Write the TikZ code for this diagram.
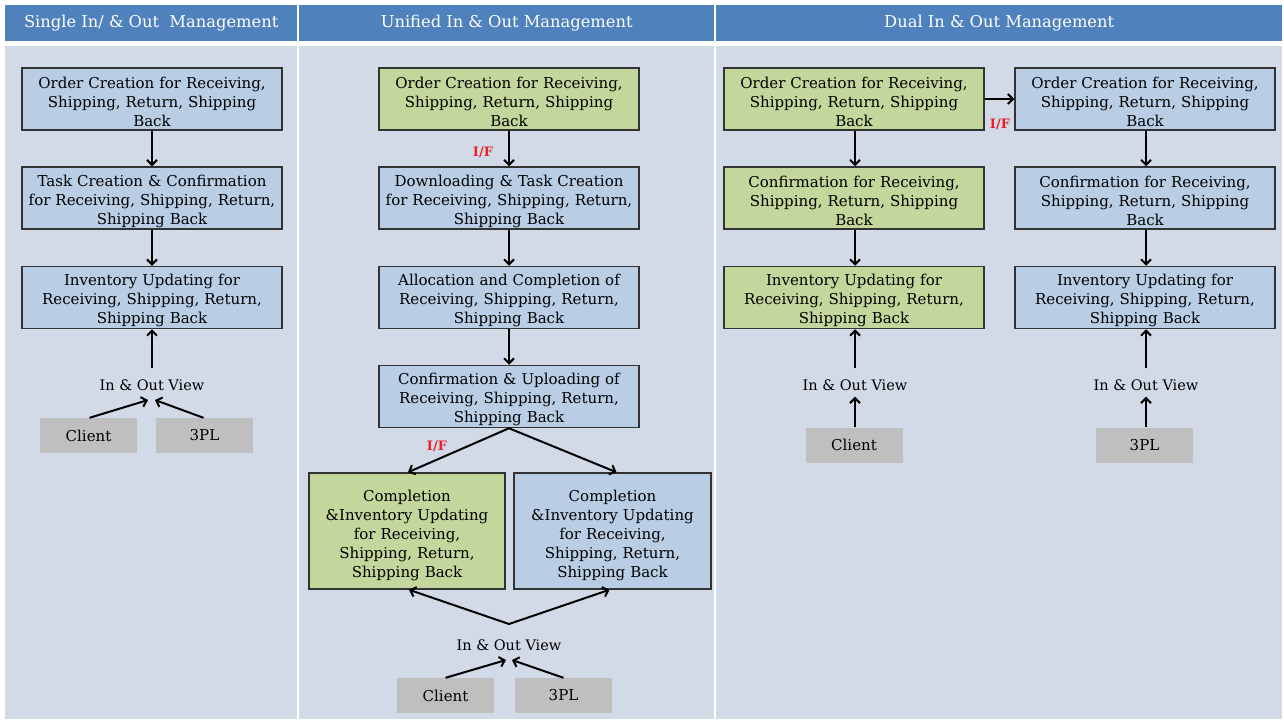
\documentclass[tikz,border=0pt]{standalone}
\usepackage{fontspec}
\setmainfont{DejaVu Serif}
\usetikzlibrary{arrows.meta}
\definecolor{hdrblue}{HTML}{4F81BD}
\definecolor{panel}{HTML}{D3DAE7}
\definecolor{boxblue}{HTML}{B9CDE5}
\definecolor{boxgreen}{HTML}{C3D69B}
\definecolor{boxgray}{HTML}{BFBFBF}
\definecolor{ifred}{HTML}{E8202A}
\newcommand{\boxfont}{\fontsize{15}{19}\selectfont}
\tikzset{
  hdr/.style={fill=hdrblue, draw=none, text=white, font=\fontsize{16.3}{19}\selectfont},
  proc/.style={draw=black!80, line width=1.5pt, align=center, inner sep=1pt,
    font=\boxfont, minimum height=62pt, text height=18pt},
  tallproc/.style={minimum height=116pt, text height=20pt},
  bluebox/.style={proc, fill=boxblue},
  greenbox/.style={proc, fill=boxgreen},
  actor/.style={fill=boxgray, draw=none, minimum width=97pt, minimum height=35pt,
    font=\fontsize{15}{19}\selectfont},
  viewlbl/.style={font=\fontsize{14.5}{19}\selectfont, inner sep=1pt},
  iflbl/.style={text=ifred, font=\bfseries\fontsize{13}{14}\selectfont, inner sep=0pt},
  arr/.style={-{Straight Barb[length=5pt,width=10pt]}, line width=2pt},
  darr/.style={{Straight Barb[length=5pt,width=10pt]}-{Straight Barb[length=5pt,width=10pt]}, line width=2pt}
}
\begin{document}
\begin{tikzpicture}[x=1pt,y=-1pt]
\useasboundingbox (0,0) rectangle (1284,720);
\fill[white] (0,0) rectangle (1284,720);
% column panels and headers
\fill[panel] (5,46) rectangle (297,719);
\fill[panel] (299,46) rectangle (714,719);
\fill[panel] (716,46) rectangle (1282,719);
\node[hdr, minimum width=292pt, minimum height=36pt, anchor=north west] (h1) at (5,5) {Single In/ \& Out\ \ Management};
\node[hdr, minimum width=415pt, minimum height=36pt, anchor=north west] (h2) at (299,5) {Unified In \& Out Management};
\node[hdr, minimum width=566pt, minimum height=36pt, anchor=north west] (h3) at (716,5) {Dual In \& Out Management};

% ---- single management ----
\node[bluebox, text width=258pt] (a1) at (152,99) {Order Creation for Receiving,\\Shipping, Return, Shipping\\Back};
\node[bluebox, text width=258pt] (a2) at (152,198) {Task Creation \& Confirmation\\for Receiving, Shipping, Return,\\Shipping Back};
\node[bluebox, text width=258pt] (a3) at (152,297.5) {Inventory Updating for\\Receiving, Shipping, Return,\\Shipping Back};
\node[viewlbl] (av) at (152,385) {In \& Out View};
\node[actor] (ac) at (88.5,435.5) {Client};
\node[actor] (ap) at (204.5,435.5) {3PL};
\coordinate (avl) at (148,400);
\coordinate (avr) at (155,400);
\draw[arr] (a1) -- (a2);
\draw[arr] (a2) -- (a3);
\draw[arr] ([yshift=10pt]av.north) -- (a3.south);
\draw[arr] ([xshift=1pt]ac.north) -- (avl);
\draw[arr] ([xshift=-1pt]ap.north) -- (avr);

% ---- unified management ----
\node[greenbox, text width=258pt] (b1) at (509,99) {Order Creation for Receiving,\\Shipping, Return, Shipping\\Back};
\node[bluebox, text width=258pt] (b2) at (509,198) {Downloading \& Task Creation\\for Receiving, Shipping, Return,\\Shipping Back};
\node[bluebox, text width=258pt] (b3) at (509,297.5) {Allocation and Completion of\\Receiving, Shipping, Return,\\Shipping Back};
\node[bluebox, text width=258pt] (b4) at (509,396.5) {Confirmation \& Uploading of\\Receiving, Shipping, Return,\\Shipping Back};
\node[greenbox, tallproc, text width=194pt] (b5) at (407,531) {Completion\\\&Inventory Updating\\for Receiving,\\Shipping, Return,\\Shipping Back};
\node[bluebox, tallproc, text width=195pt] (b6) at (612.5,531) {Completion\\\&Inventory Updating\\for Receiving,\\Shipping, Return,\\Shipping Back};
\node[viewlbl] (bv) at (509,645) {In \& Out View};
\node[actor] (bc) at (445.5,695.5) {Client};
\node[actor] (bp) at (563.5,695.5) {3PL};
\coordinate (bj) at (509,624);
\coordinate (bvl) at (506,660);
\coordinate (bvr) at (512,660);
\draw[arr] (b1) -- (b2);
\node[iflbl] (if1) at (483,152) {I/F};
\draw[arr] (b2) -- (b3);
\draw[arr] (b3) -- (b4);
\draw[arr] (b4.south) -- ([xshift=1pt]b5.north);
\draw[arr] (b4.south) -- ([xshift=4pt]b6.north);
\node[iflbl] (if2) at (437,446) {I/F};
\draw[darr] ([xshift=2pt]b5.south) -- (bj) -- ([xshift=-3pt]b6.south);
\draw[arr] (bc.north) -- (bvl);
\draw[arr] (bp.north) -- (bvr);

% ---- dual management ----
\node[greenbox, text width=258pt] (c1) at (854,99) {Order Creation for Receiving,\\Shipping, Return, Shipping\\Back};
\node[greenbox, text width=258pt] (c2) at (854,198) {Confirmation for Receiving,\\Shipping, Return, Shipping\\Back};
\node[greenbox, text width=258pt] (c3) at (854,297.5) {Inventory Updating for\\Receiving, Shipping, Return,\\Shipping Back};
\node[bluebox, text width=258pt] (d1) at (1145,99) {Order Creation for Receiving,\\Shipping, Return, Shipping\\Back};
\node[bluebox, text width=258pt] (d2) at (1145,198) {Confirmation for Receiving,\\Shipping, Return, Shipping\\Back};
\node[bluebox, text width=258pt] (d3) at (1145,297.5) {Inventory Updating for\\Receiving, Shipping, Return,\\Shipping Back};
\node[viewlbl] (cv) at (855,385) {In \& Out View};
\node[viewlbl] (dv) at (1146,385) {In \& Out View};
\node[actor] (cc) at (854,445) {Client};
\node[actor] (dp) at (1144.5,445) {3PL};
\draw[arr] (c1.east) -- (d1.west);
\node[iflbl] (if3) at (1000,124) {I/F};
\draw[arr] ([xshift=1pt]c1.south) -- ([xshift=1pt]c2.north);
\draw[arr] ([xshift=1pt]c2.south) -- ([xshift=1pt]c3.north);
\draw[arr] ([xshift=1pt]d1.south) -- ([xshift=1pt]d2.north);
\draw[arr] ([xshift=1pt]d2.south) -- ([xshift=1pt]d3.north);
\draw[arr] ([yshift=10pt]cv.north) -- ([xshift=1pt]c3.south);
\draw[arr] ([yshift=10pt]dv.north) -- ([xshift=1pt]d3.south);
\draw[arr] ([xshift=1pt]cc.north) -- ([yshift=-5pt]cv.south);
\draw[arr] ([xshift=1.5pt]dp.north) -- ([yshift=-5pt]dv.south);
\end{tikzpicture}
\end{document}
